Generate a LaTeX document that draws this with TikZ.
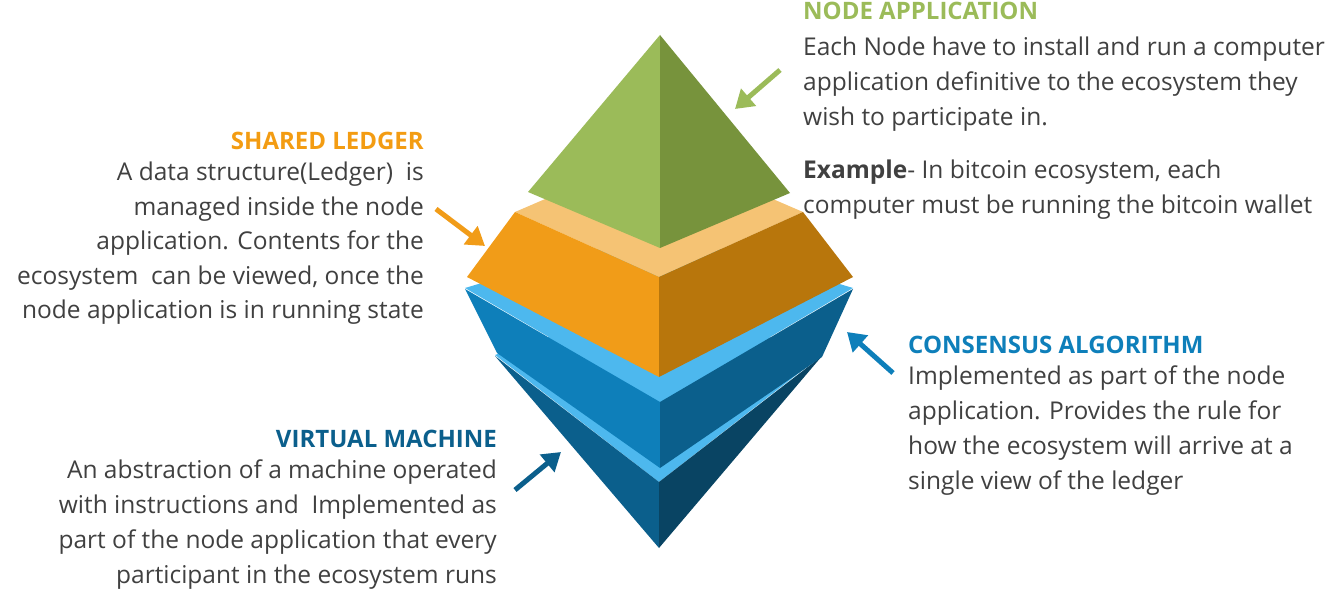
\documentclass[tikz,border=0pt]{standalone}
\usepackage{fontspec}
\setmainfont{Open Sans}
\usetikzlibrary{arrows.meta}
\definecolor{gL}{HTML}{9BBB59}\definecolor{gD}{HTML}{77933C}
\definecolor{oL}{HTML}{F19C18}\definecolor{oD}{HTML}{B8760C}\definecolor{oC}{HTML}{F5C374}
\definecolor{bL}{HTML}{0E7FBA}\definecolor{bD}{HTML}{0B5F8C}\definecolor{bC}{HTML}{4DB8EE}\definecolor{bX}{HTML}{094463}
\definecolor{txt}{HTML}{404040}\definecolor{ttlO}{HTML}{F39C12}
\begin{document}
\begin{tikzpicture}[x=1pt,y=-1pt,
 ttl/.style={font=\fontsize{24}{28}\selectfont\bfseries,inner sep=0},
 body/.style={font=\fontsize{24.5}{35}\selectfont,text=txt,inner sep=0,align=left},
 arr/.style={line width=5pt,-{Triangle[length=18pt,width=22pt]}}]
\useasboundingbox (0,0) rectangle (1341,593);
% bottom blue
\fill[bC] (495,355)--(659,300)--(822,355)--(659,482)--cycle;
\fill[bD] (495,356)--(659,482)--(659,548)--cycle;
\fill[bX] (659,482)--(822,356)--(659,548)--cycle;
% middle blue
\fill[bC] (465,288)--(659,230)--(853,288)--(660,402)--cycle;
\fill[bL] (465,289)--(660,402)--(660,468)--(497,353)--cycle;
\fill[bD] (660,402)--(853,289)--(822,357)--(660,468)--cycle;
% orange
\fill[oC] (515,212)--(659,150)--(803,212)--(659,277)--cycle;
\fill[oL] (515,212)--(659,277)--(659,377)--(467,277)--cycle;
\fill[oD] (659,277)--(803,212)--(853,277)--(659,377)--cycle;
% green
\fill[gL] (660,35)--(528,192)--(660,248)--cycle;
\fill[gD] (660,35)--(790,193)--(660,248)--cycle;
% texts
\node[ttl,text=gL,anchor=west] (t1) at (803,11) {NODE APPLICATION};
\node[body,anchor=north west] (b1) at (803,37) {Each Node have to install and run a computer\\application definitive to the ecosystem they\\wish to participate in.};
\node[body,anchor=north west] (b1b) at (803,160) {\textbf{Example}- In bitcoin ecosystem, each\\computer must be running the bitcoin wallet};
\node[ttl,text=ttlO,anchor=east] (t2) at (424,141) {SHARED LEDGER};
\node[body,anchor=north east,align=right,font=\fontsize{24.5}{34.5}\selectfont] (b2) at (424,162) {A data structure(Ledger)\ \ is\\managed inside the node\\application. Contents for the\\ecosystem\ \ can be viewed, once the\\node application is in running state};
\node[ttl,text=bL,anchor=west] (t3) at (908,345) {CONSENSUS ALGORITHM};
\node[body,anchor=north west] (b3) at (908,366) {Implemented as part of the node\\application. Provides the rule for\\how the ecosystem will arrive at a\\single view of the ledger};
\node[ttl,text=bD,anchor=east] (t4) at (497,439) {VIRTUAL MACHINE};
\node[body,anchor=north east,align=right] (b4) at (497,460) {An abstraction of a machine operated\\with instructions and\ \ Implemented as\\part of the node application that every\\participant in the ecosystem runs};
% arrows
\coordinate (a1s) at (780,70); \coordinate (a1e) at (735,109);
\coordinate (a2s) at (436,209); \coordinate (a2e) at (485,246);
\coordinate (a3s) at (893,373); \coordinate (a3e) at (847,332);
\coordinate (a4s) at (515,490); \coordinate (a4e) at (561,452);
\draw[arr,gL] (a1s)--(a1e);
\draw[arr,oL] (a2s)--(a2e);
\draw[arr,bL] (a3s)--(a3e);
\draw[arr,bD] (a4s)--(a4e);
\end{tikzpicture}
\end{document}
